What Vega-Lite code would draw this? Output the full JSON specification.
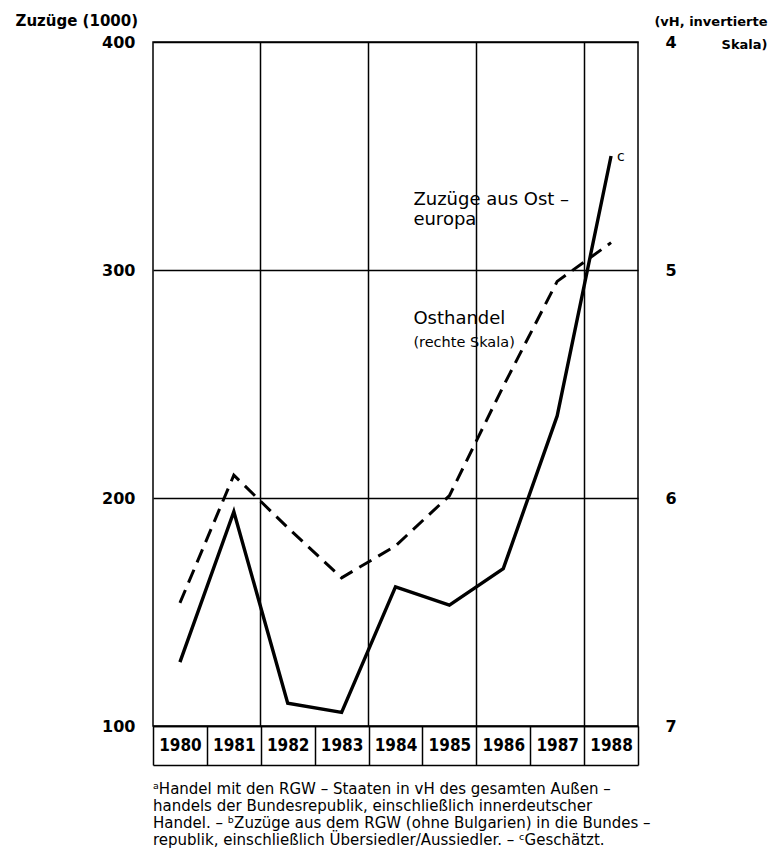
{
  "$schema": "https://vega.github.io/schema/vega-lite/v6.json",
  "autosize": {"type": "none"},
  "padding": {"left": 153, "top": 42, "right": 131, "bottom": 135},
  "width": 485,
  "height": 684,
  "background": "white",
  "config": {
    "font": "DejaVu Sans",
    "view": {"stroke": "black", "strokeWidth": 1.5}
  },
  "title": {
    "text": [
      "ᵃHandel mit den RGW – Staaten in vH des gesamten Außen –",
      "handels der Bundesrepublik, einschließlich innerdeutscher",
      "Handel. – ᵇZuzüge aus dem RGW (ohne Bulgarien) in die Bundes –",
      "republik, einschließlich Übersiedler/Aussiedler. – ᶜGeschätzt."
    ],
    "orient": "bottom",
    "anchor": "start",
    "frame": "group",
    "font": "DejaVu Sans",
    "fontSize": 15,
    "fontWeight": "normal",
    "color": "black",
    "lineHeight": 17,
    "offset": 16
  },
  "datasets": {
    "zuzuege": [
      {"year": "1980", "value": 128},
      {"year": "1981", "value": 194},
      {"year": "1982", "value": 110},
      {"year": "1983", "value": 106},
      {"year": "1984", "value": 161},
      {"year": "1985", "value": 153},
      {"year": "1986", "value": 169},
      {"year": "1987", "value": 236},
      {"year": "1988", "value": 350}
    ],
    "osthandel": [
      {"year": "1980", "vh": 6.46},
      {"year": "1981", "vh": 5.90},
      {"year": "1982", "vh": 6.13},
      {"year": "1983", "vh": 6.35},
      {"year": "1984", "vh": 6.21},
      {"year": "1985", "vh": 5.99},
      {"year": "1986", "vh": 5.51},
      {"year": "1987", "vh": 5.05},
      {"year": "1988", "vh": 4.88}
    ]
  },
  "layer": [
    {
      "layer": [
        {
          "data": {"name": "zuzuege"},
          "mark": {"type": "line", "color": "black", "strokeWidth": 3.4, "strokeJoin": "miter"},
          "encoding": {
            "x": {
              "field": "year", "type": "ordinal",
              "scale": {"type": "band", "paddingInner": 0, "paddingOuter": 0},
              "axis": {
                "orient": "bottom", "title": null, "grid": false,
                "tickBand": "extent", "ticks": true, "tickSize": 39, "tickWidth": 1.5, "tickColor": "black",
                "domain": true, "domainColor": "black", "domainWidth": 1.5,
                "labelAngle": 0, "labelBaseline": "middle", "labelPadding": -19.5,
                "labelFont": "Liberation Sans Narrow, DejaVu Sans Condensed, Liberation Sans",
                "labelFontSize": 17, "labelFontWeight": "bold", "labelColor": "black",
                "labelOverlap": false, "labelFlush": false
              }
            },
            "y": {
              "field": "value", "type": "quantitative",
              "scale": {"domain": [100, 400], "nice": false, "zero": false},
              "axis": {
                "orient": "left", "values": [100, 200, 300, 400],
                "grid": true, "gridColor": "black", "gridWidth": 1.5, "gridOpacity": 1,
                "ticks": false, "domain": false,
                "labelPadding": 18, "labelFontSize": 16, "labelColor": "black", "labelFontWeight": "bold",
                "title": "Zuzüge (1000)", "titleAngle": 0, "titleAlign": "left", "titleBaseline": "alphabetic",
                "titleX": -138, "titleY": -17, "titleFontSize": 15, "titleFontWeight": "bold", "titleColor": "black"
              }
            }
          }
        },
        {
          "data": {
            "values": [
              {"year": "1985", "value": 328.5, "label": "Zuzüge aus Ost –\neuropa"},
              {"year": "1985", "value": 276.3, "label": "Osthandel"}
            ]
          },
          "mark": {"type": "text", "align": "left", "baseline": "alphabetic", "dx": -36, "fontSize": 18, "lineHeight": 20, "lineBreak": "\n", "color": "black"},
          "encoding": {
            "x": {
              "field": "year", "type": "ordinal",
              "axis": {
                "orient": "bottom", "offset": 39, "title": null, "grid": false, "ticks": false, "labels": false,
                "domain": true, "domainColor": "black", "domainWidth": 1.5
              }
            },
            "y": {"field": "value", "type": "quantitative", "scale": {"domain": [100, 400], "nice": false, "zero": false}, "axis": null},
            "text": {"field": "label"}
          }
        },
        {
          "data": {"values": [{"year": "1985", "value": 266.2, "label": "(rechte Skala)"}]},
          "mark": {"type": "text", "align": "left", "baseline": "alphabetic", "dx": -36, "fontSize": 14.5, "color": "black"},
          "encoding": {
            "x": {"field": "year", "type": "ordinal", "axis": null},
            "y": {"field": "value", "type": "quantitative", "scale": {"domain": [100, 400], "nice": false, "zero": false}, "axis": null},
            "text": {"field": "label"}
          }
        },
        {
          "data": {"values": [{"year": "1988", "value": 348, "label": "c"}]},
          "mark": {"type": "text", "align": "left", "baseline": "alphabetic", "dx": 6, "fontSize": 14, "color": "black"},
          "encoding": {
            "x": {"field": "year", "type": "ordinal", "axis": null},
            "y": {"field": "value", "type": "quantitative", "scale": {"domain": [100, 400], "nice": false, "zero": false}, "axis": null},
            "text": {"field": "label"}
          }
        }
      ],
      "resolve": {"axis": {"x": "independent", "y": "independent"}}
    },
    {
      "data": {"name": "osthandel"},
      "mark": {"type": "line", "color": "black", "strokeWidth": 3, "strokeDash": [14, 8], "strokeJoin": "miter"},
      "encoding": {
        "x": {
          "field": "year", "type": "ordinal",
          "axis": {
            "orient": "bottom", "values": ["1982", "1984", "1986", "1988"], "bandPosition": 0,
            "grid": true, "gridColor": "black", "gridWidth": 1.5, "gridOpacity": 1,
            "ticks": false, "labels": false, "domain": false, "title": null
          }
        },
        "y": {
          "field": "vh", "type": "quantitative",
          "scale": {"domain": [4, 7], "reverse": true, "nice": false, "zero": false},
          "axis": {
            "orient": "right", "values": [4, 5, 6, 7], "grid": false, "ticks": false, "domain": false,
            "labelPadding": 27, "labelFontSize": 16, "labelColor": "black", "labelAlign": "left", "labelFontWeight": "bold",
            "title": ["(vH, invertierte", "Skala)"], "titleAngle": 0, "titleAlign": "right", "titleBaseline": "alphabetic",
            "titleX": 129, "titleY": -17, "titleLineHeight": 23, "titleFontSize": 13, "titleFontWeight": "bold", "titleColor": "black"
          }
        }
      }
    }
  ],
  "resolve": {"scale": {"y": "independent"}, "axis": {"x": "independent", "y": "independent"}}
}
